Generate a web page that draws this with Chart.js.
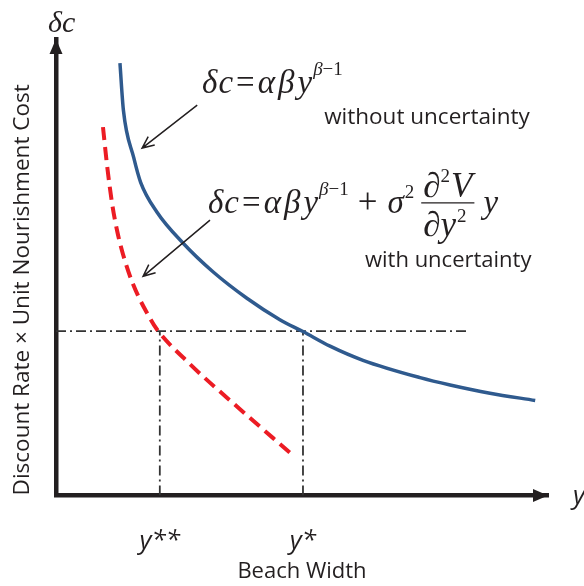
<!DOCTYPE html>
<html>
<head>
<meta charset="utf-8">
<script src="https://cdn.jsdelivr.net/npm/chart.js@4"></script>
<style>
  body { margin: 0; background: #fff; }
  #wrap { width: 584px; height: 586px; }
</style>
</head>
<body>
<div id="wrap"><canvas id="chart" width="584" height="586"></canvas></div>
<script>
// データ（横軸・縦軸とも 0〜100 の相対値）
const blueX = [13.0, 13.7, 15.8, 17.2, 20.5, 25.8, 31.9, 38.8, 45.5, 50.2, 55.7, 62.4, 74.0, 80.1, 88.2, 97.4];
const blueY = [94.7, 84.4, 74.0, 68.6, 62.1, 55.3, 49.0, 43.2, 38.5, 35.9, 32.7, 29.6, 25.8, 24.2, 22.4, 20.8];
const redX = [9.55, 10.37, 11.38, 12.4, 13.6, 15.65, 19.1, 20.5, 27.2, 37.4, 47.6];
const redY = [80.7, 72.4, 64.1, 58.1, 52.9, 46.3, 38.8, 36.4, 28.8, 18.9, 9.3];
const refLevel = 36.0;
const guideEnd = 84.1;
const xTickVals = [21.1, 50.2];
const xTickLabels = ['y**', 'y*'];

const ink = '#231f20';
const sans = '"Open Sans", "Noto Sans", sans-serif';
const serif = '"Liberation Serif", "DejaVu Serif", serif';

function pts(xs, ys) {
  return xs.map((x, i) => ({ x: x, y: ys[i] }));
}

// 数式を順番に描く
function run(ctx, x, y, parts) {
  parts.forEach(p => {
    x += p.pre || 0;
    ctx.font = p.f;
    ctx.fillText(p.t, x, y + (p.dy || 0));
    x += ctx.measureText(p.t).width + (p.post || 0);
  });
  return x;
}

function arrow(ctx, x1, y1, x2, y2) {
  ctx.beginPath();
  ctx.moveTo(x1, y1);
  ctx.lineTo(x2, y2);
  const a = Math.atan2(y2 - y1, x2 - x1);
  const L = 13;
  ctx.moveTo(x2 - L * Math.cos(a - 0.42), y2 - L * Math.sin(a - 0.42));
  ctx.lineTo(x2, y2);
  ctx.lineTo(x2 - L * Math.cos(a + 0.42), y2 - L * Math.sin(a + 0.42));
  ctx.stroke();
}

const it = 'italic 33px ' + serif;
const rm = '33px ' + serif;
const fIt = 'italic 35px ' + serif;
const fRm = '35px ' + serif;
const sIt = 'italic 19px ' + serif;
const sRm = '19px ' + serif;

// δc = αβy^(β−1)
const lhs = [
  { t: 'δ', f: it, post: 1 },
  { t: 'c', f: it, post: 2 },
  { t: '=', f: rm, pre: 1, post: 3 },
  { t: 'α', f: it, post: 3 },
  { t: 'β', f: it, post: 3 },
  { t: 'y', f: it, post: 1 },
  { t: 'β', f: sIt, dy: -18 },
  { t: '−1', f: sRm, dy: -18 }
];

const notes = {
  id: 'notes',
  afterDraw(chart) {
    const ctx = chart.ctx;
    const xs = chart.scales.x, ys = chart.scales.y;
    const X = v => xs.getPixelForValue(v);
    const Y = v => ys.getPixelForValue(v);
    const a = chart.chartArea;
    ctx.save();
    ctx.fillStyle = ink;
    ctx.strokeStyle = ink;

    // 軸の矢印
    ctx.beginPath();
    ctx.moveTo(a.left, a.top);
    ctx.lineTo(a.left - 6.5, a.top + 15);
    ctx.lineTo(a.left + 6.5, a.top + 15);
    ctx.closePath();
    ctx.fill();
    ctx.beginPath();
    ctx.moveTo(a.right, a.bottom);
    ctx.lineTo(a.right - 15, a.bottom - 6.5);
    ctx.lineTo(a.right - 15, a.bottom + 6.5);
    ctx.closePath();
    ctx.fill();

    ctx.textBaseline = 'alphabetic';
    ctx.textAlign = 'left';
    ctx.font = 'italic 30px ' + serif;
    ctx.fillText('δc', a.left - 8, a.top - 7);
    ctx.font = 'italic 26px ' + sans;
    ctx.fillText('y', a.right + 25, a.bottom + 9);

    // 数式1
    run(ctx, X(29.7), Y(88.2), lhs);
    ctx.font = '22.5px ' + sans;
    ctx.fillText('without uncertainty', X(54.5), Y(81.4));

    // 数式2
    const y = Y(61.9);
    let x = run(ctx, X(30.9), y, lhs);
    x = run(ctx, x, y, [
      { t: '+', f: fRm, pre: 9, post: 10 },
      { t: 'σ', f: it, post: 1 },
      { t: '2', f: sRm, dy: -15, post: 7 }
    ]);
    const fx = x;
    const nx = run(ctx, fx + 2, y - 16, [
      { t: '∂', f: fRm },
      { t: '2', f: sRm, dy: -15, post: 1 },
      { t: 'V', f: fIt }
    ]);
    const dx = run(ctx, fx + 2, y + 23, [
      { t: '∂', f: fRm },
      { t: 'y', f: fIt, post: 1 },
      { t: '2', f: sRm, dy: -14 }
    ]);
    const fEnd = Math.max(nx, dx) + 2;
    ctx.lineWidth = 1.3;
    ctx.beginPath();
    ctx.moveTo(fx, y - 10);
    ctx.lineTo(fEnd, y - 10);
    ctx.stroke();
    run(ctx, fEnd + 9, y, [{ t: 'y', f: it }]);
    ctx.font = '22px ' + sans;
    ctx.fillText('with uncertainty', X(62.8), Y(50.0));

    // 注釈の矢印
    ctx.lineWidth = 1.5;
    arrow(ctx, X(28.7), Y(85.5), X(17.5), Y(76.1));
    arrow(ctx, X(31.3), Y(60.3), X(17.7), Y(48.0));
    ctx.restore();
  }
};

const guide = {
  borderColor: '#333333',
  borderWidth: 1.8,
  borderDash: [10, 4, 2, 4],
  pointRadius: 0,
  showLine: true,
  fill: false
};

new Chart(document.getElementById('chart'), {
  type: 'scatter',
  data: {
    datasets: [
      {
        data: pts(blueX, blueY),
        borderColor: '#2f5a8e',
        borderWidth: 3.5,
        pointRadius: 0,
        showLine: true,
        cubicInterpolationMode: 'monotone'
      },
      {
        data: pts(redX, redY),
        borderColor: '#ec1c24',
        borderWidth: 4,
        borderDash: [13, 7],
        pointRadius: 0,
        showLine: true,
        cubicInterpolationMode: 'monotone'
      },
      Object.assign({ data: [{ x: 0, y: refLevel }, { x: guideEnd, y: refLevel }] }, guide),
      Object.assign({ data: [{ x: xTickVals[0], y: 0 }, { x: xTickVals[0], y: refLevel }] }, guide),
      Object.assign({ data: [{ x: xTickVals[1], y: 0 }, { x: xTickVals[1], y: refLevel }] }, guide)
    ]
  },
  options: {
    responsive: false,
    animation: false,
    devicePixelRatio: 1,
    layout: { padding: { top: 39, right: 36, left: 0, bottom: 0 } },
    plugins: { legend: { display: false }, tooltip: { enabled: false } },
    scales: {
      x: {
        type: 'linear',
        min: 0,
        max: 100,
        grid: { display: false, drawTicks: false },
        border: { display: true, color: ink, width: 4.5 },
        afterBuildTicks: (scale) => {
          scale.ticks = xTickVals.map(v => ({ value: v }));
        },
        ticks: {
          autoSkip: false,
          maxRotation: 0,
          padding: 31,
          color: ink,
          font: { family: sans, size: 26, style: 'italic' },
          callback: (v, i) => xTickLabels[i]
        },
        title: {
          display: true,
          text: 'Beach Width',
          color: ink,
          font: { family: sans, size: 22 },
          padding: { top: -30, bottom: 1 }
        }
      },
      y: {
        type: 'linear',
        min: 0,
        max: 100,
        grid: { display: false, drawTicks: false },
        border: { display: true, color: ink, width: 4.5 },
        ticks: { display: false },
        title: {
          display: true,
          text: 'Discount Rate × Unit Nourishment Cost',
          align: 'start',
          color: ink,
          font: { family: sans, size: 22.5 },
          padding: { top: 9, bottom: 20 }
        }
      }
    }
  },
  plugins: [notes]
});
</script>
</body>
</html>
